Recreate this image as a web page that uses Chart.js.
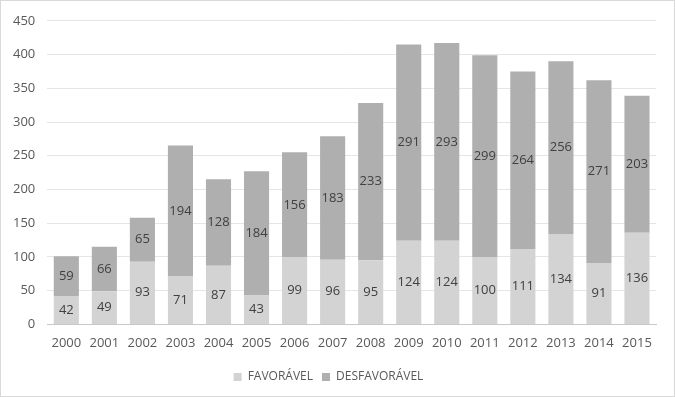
<!doctype html>
<html lang="pt">
  <head>
    <meta charset="utf-8">
    <title>Favorável / Desfavorável 2000-2015</title>
    <style>
      * {
        margin: 0;
        padding: 0;
      }
      body {
        background: white;
      }
      .chartBox {
        width: 673px;
        height: 395px;
        border: solid 1px #d9d9d9;
        background: white;
      }
    </style>
  </head>
  <body>
    <div class="chartBox">
      <canvas id="myChart"></canvas>
    </div>
    <script src="https://cdn.jsdelivr.net/npm/chart.js"></script>
    <script>
    // data
    const years = ['2000', '2001', '2002', '2003', '2004', '2005', '2006', '2007',
                   '2008', '2009', '2010', '2011', '2012', '2013', '2014', '2015'];
    const favoravel = [42, 49, 93, 71, 87, 43, 99, 96, 95, 124, 124, 100, 111, 134, 91, 136];
    const desfavoravel = [59, 66, 65, 194, 128, 184, 156, 183, 233, 291, 293, 299, 264, 256, 271, 203];
    const yTicks = [0, 50, 100, 150, 200, 250, 300, 350, 400, 450];

    const fontFamily = "'Open Sans', 'DejaVu Sans', sans-serif";
    const textColor = '#595959';

    // draws the value in the middle of each bar segment
    const barLabels = {
      id: 'barLabels',
      afterDatasetsDraw(chart) {
        const ctx = chart.ctx;
        ctx.save();
        ctx.font = '13px ' + fontFamily;
        ctx.fillStyle = '#404040';
        ctx.textAlign = 'center';
        ctx.textBaseline = 'middle';
        chart.data.datasets.forEach((ds, i) => {
          const meta = chart.getDatasetMeta(i);
          meta.data.forEach((bar, j) => {
            const p = bar.getCenterPoint();
            ctx.fillText(ds.data[j], p.x, p.y);
          });
        });
        ctx.restore();
      }
    };

    const data = {
      labels: years,
      datasets: [{
        label: 'FAVORÁVEL',
        data: favoravel,
        backgroundColor: '#d3d3d3',
        barPercentage: 0.66,
        categoryPercentage: 1
      }, {
        label: 'DESFAVORÁVEL',
        data: desfavoravel,
        backgroundColor: '#afafaf',
        barPercentage: 0.66,
        categoryPercentage: 1
      }]
    };

    const config = {
      type: 'bar',
      data,
      plugins: [barLabels],
      options: {
        responsive: true,
        maintainAspectRatio: false,
        animation: false,
        layout: {
          padding: { left: 0, right: 18, top: 1, bottom: 3 }
        },
        plugins: {
          tooltip: { enabled: false },
          legend: {
            position: 'bottom',
            labels: {
              boxWidth: 8,
              boxHeight: 8,
              padding: 9,
              color: textColor,
              font: { family: fontFamily, size: 12 }
            }
          }
        },
        scales: {
          x: {
            stacked: true,
            grid: { display: false, drawTicks: false },
            border: { display: true, color: '#c8c8c8' },
            ticks: {
              color: textColor,
              padding: 11,
              font: { family: fontFamily, size: 13 }
            }
          },
          y: {
            stacked: true,
            min: 0,
            max: 450,
            afterBuildTicks(axis) {
              axis.ticks = yTicks.map(v => ({ value: v }));
            },
            grid: { color: '#e5e5e5', drawTicks: false },
            border: { display: false },
            ticks: {
              color: textColor,
              padding: 12,
              font: { family: fontFamily, size: 13 }
            }
          }
        }
      }
    };

    const myChart = new Chart(document.getElementById('myChart'), config);
    </script>
  </body>
</html>
